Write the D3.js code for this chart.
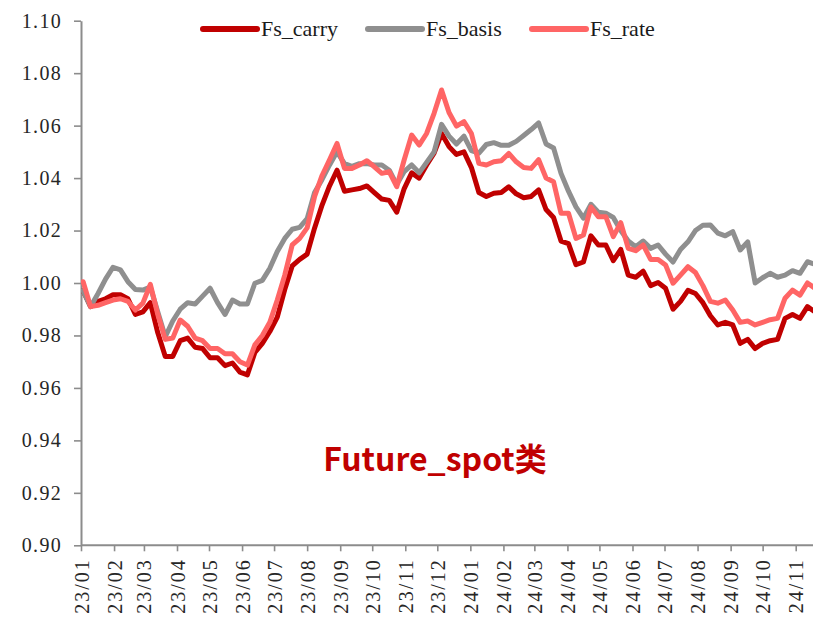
<!DOCTYPE html>
<html>
<head>
<meta charset="utf-8">
<script src="https://cdn.jsdelivr.net/npm/d3@7/dist/d3.min.js"></script>
<style>
  html, body { margin: 0; padding: 0; background: #fff; }
  svg { display: block; }
</style>
</head>
<body>
<svg id="chart" width="813" height="619"></svg>
<script>
// Weekly observation dates
const dates = [
  "2023-01-03","2023-01-10","2023-01-17","2023-01-24","2023-01-31",
  "2023-02-07","2023-02-14","2023-02-21","2023-02-28",
  "2023-03-07","2023-03-14","2023-03-21","2023-03-28",
  "2023-04-04","2023-04-11","2023-04-18","2023-04-25",
  "2023-05-02","2023-05-09","2023-05-16","2023-05-23","2023-05-30",
  "2023-06-06","2023-06-13","2023-06-20","2023-06-27",
  "2023-07-04","2023-07-11","2023-07-18","2023-07-25",
  "2023-08-01","2023-08-08","2023-08-15","2023-08-22","2023-08-29",
  "2023-09-05","2023-09-12","2023-09-19","2023-09-26",
  "2023-10-03","2023-10-10","2023-10-17","2023-10-24","2023-10-31",
  "2023-11-07","2023-11-14","2023-11-21","2023-11-28",
  "2023-12-05","2023-12-12","2023-12-19","2023-12-26",
  "2024-01-02","2024-01-09","2024-01-16","2024-01-23","2024-01-30",
  "2024-02-06","2024-02-13","2024-02-20","2024-02-27",
  "2024-03-05","2024-03-12","2024-03-19","2024-03-26",
  "2024-04-02","2024-04-09","2024-04-16","2024-04-23","2024-04-30",
  "2024-05-07","2024-05-14","2024-05-21","2024-05-28",
  "2024-06-04","2024-06-11","2024-06-18","2024-06-25",
  "2024-07-02","2024-07-09","2024-07-16","2024-07-23","2024-07-30",
  "2024-08-06","2024-08-13","2024-08-20","2024-08-27",
  "2024-09-03","2024-09-10","2024-09-17","2024-09-24",
  "2024-10-01","2024-10-08","2024-10-15","2024-10-22","2024-10-29",
  "2024-11-05","2024-11-12","2024-11-19"
];

const fsCarry = [
  0.997,0.991,0.993,0.994,0.9955,0.9955,0.994,0.988,0.989,0.9925,
  0.981,0.972,0.972,0.978,0.979,0.9755,0.975,0.9715,0.9715,0.9685,
  0.9695,0.966,0.965,0.9735,0.977,0.9815,0.987,0.9975,1.0065,1.009,
  1.011,1.021,1.0297,1.037,1.043,1.035,1.0355,1.036,1.037,1.0345,
  1.032,1.0315,1.027,1.036,1.042,1.040,1.045,1.0495,1.057,1.052,
  1.049,1.050,1.044,1.0345,1.033,1.0342,1.0345,1.0367,1.034,1.0325,
  1.033,1.0355,1.028,1.025,1.016,1.015,1.007,1.008,1.018,1.0145,
  1.0145,1.0085,1.0128,1.003,1.0022,1.0045,0.999,1.0002,0.998,0.990,
  0.993,0.9972,0.996,0.9925,0.9875,0.984,0.985,0.984,0.977,0.9785,
  0.975,0.977,0.978,0.9785,0.9865,0.988,0.9865,0.991,0.989
];

const fsBasis = [
  0.997,0.991,0.996,1.0015,1.006,1.005,1.0005,0.9975,0.9973,0.9985,
  0.989,0.9795,0.9855,0.990,0.9925,0.992,0.995,0.998,0.9925,0.988,
  0.9935,0.992,0.992,0.9999,1.001,1.0056,1.012,1.017,1.0205,1.0212,
  1.0245,1.0345,1.0395,1.045,1.050,1.0455,1.0445,1.0455,1.0455,1.045,
  1.045,1.043,1.0375,1.0425,1.045,1.042,1.046,1.050,1.0605,1.056,
  1.053,1.056,1.0505,1.0495,1.0528,1.0535,1.0525,1.0525,1.054,1.0562,
  1.0585,1.061,1.053,1.0515,1.0418,1.035,1.029,1.0247,1.030,1.027,
  1.0266,1.025,1.020,1.016,1.0138,1.016,1.0132,1.0145,1.011,1.008,
  1.0128,1.0157,1.020,1.022,1.0221,1.019,1.018,1.0196,1.0126,1.0157,
  1.000,1.002,1.0037,1.0022,1.003,1.0047,1.0037,1.0081,1.0072
];

const fsRate = [
  1.0005,0.991,0.9915,0.9925,0.9935,0.994,0.993,0.9897,0.9923,0.9995,
  0.988,0.9785,0.979,0.9859,0.9835,0.979,0.978,0.975,0.975,0.973,
  0.973,0.970,0.9687,0.9764,0.980,0.985,0.9935,1.003,1.0145,1.017,
  1.021,1.033,1.041,1.047,1.0532,1.0437,1.0437,1.045,1.0466,1.0443,
  1.0418,1.0424,1.0367,1.047,1.0564,1.0526,1.057,1.0647,1.0736,1.065,
  1.0598,1.0615,1.057,1.0456,1.045,1.0462,1.0466,1.0494,1.0462,1.044,
  1.0437,1.047,1.040,1.0386,1.0266,1.0266,1.017,1.0183,1.029,1.0253,
  1.0253,1.0177,1.023,1.0132,1.0123,1.0145,1.009,1.009,1.0069,0.9999,
  1.003,1.0062,1.004,0.999,0.993,0.9923,0.9935,0.9897,0.985,0.9855,
  0.984,0.985,0.986,0.9865,0.9942,0.9973,0.9954,1.000,0.998
];

const seriesNames = ["Fs_carry", "Fs_basis", "Fs_rate"];
const seriesColors = ["#C00000", "#8F8F8F", "#FF6565"];
const yTicks = [0.90, 0.92, 0.94, 0.96, 0.98, 1.00, 1.02, 1.04, 1.06, 1.08, 1.10];
const monthTicks = [
  "2023-01-01","2023-02-01","2023-03-01","2023-04-01","2023-05-01","2023-06-01",
  "2023-07-01","2023-08-01","2023-09-01","2023-10-01","2023-11-01","2023-12-01",
  "2024-01-01","2024-02-01","2024-03-01","2024-04-01","2024-05-01","2024-06-01",
  "2024-07-01","2024-08-01","2024-09-01","2024-10-01","2024-11-01"
];
const annotation = "Future_spot类";

const parse = d3.utcParse("%Y-%m-%d");
const dateObjs = dates.map(parse);
const tickObjs = monthTicks.map(parse);
const seriesValues = [fsCarry, fsBasis, fsRate];

const svg = d3.select("#chart");
const plotLeft = 81, plotRight = 813, plotTop = 20.7, plotBottom = 545.3;

const x = d3.scaleUtc()
  .domain([parse("2023-01-01"), parse("2024-11-01")])
  .range([plotLeft, 795.7]);
const y = d3.scaleLinear()
  .domain([0.90, 1.10])
  .range([plotBottom, plotTop]);

const axisColor = "#8C8C8C";
const serif = "'Liberation Serif', 'Times New Roman', serif";

// Y axis
const yAxis = svg.append("g")
  .attr("transform", `translate(${plotLeft},0)`)
  .call(d3.axisLeft(y).tickValues(yTicks).tickFormat(d3.format(".2f"))
    .tickSize(7).tickSizeOuter(0).tickPadding(12));
yAxis.attr("font-family", null);
yAxis.select(".domain").attr("stroke", axisColor).attr("stroke-width", 2);
yAxis.selectAll(".tick line").attr("stroke", axisColor).attr("stroke-width", 1.6);
yAxis.selectAll("text")
  .style("font-family", serif).attr("font-size", 20)
  .attr("letter-spacing", 1.3)
  .attr("fill", "#262626");

// X axis
const xAxis = svg.append("g")
  .attr("transform", `translate(0,${plotBottom})`)
  .call(d3.axisBottom(x).tickValues(tickObjs).tickFormat(d3.utcFormat("%y/%m"))
    .tickSize(6).tickSizeOuter(0));
xAxis.attr("font-family", null);
xAxis.select(".domain").remove();
xAxis.append("line")
  .attr("x1", plotLeft).attr("x2", plotRight)
  .attr("stroke", axisColor).attr("stroke-width", 2);
xAxis.selectAll(".tick line").attr("stroke", axisColor).attr("stroke-width", 1.6);
xAxis.selectAll("text")
  .attr("transform", "rotate(-90)")
  .attr("text-anchor", "end")
  .attr("x", -13).attr("y", 0).attr("dy", "0.35em")
  .style("font-family", serif).attr("font-size", 20)
  .attr("letter-spacing", 2)
  .attr("fill", "#262626");

// Series lines (drawn in legend order so later series sit on top)
const line = d3.line()
  .x((d, i) => x(dateObjs[i]))
  .y(d => y(d));

svg.append("defs").append("clipPath").attr("id", "plotClip")
  .append("rect").attr("x", plotLeft).attr("y", 0)
  .attr("width", plotRight - plotLeft).attr("height", plotBottom);

const lines = svg.append("g").attr("clip-path", "url(#plotClip)");
seriesValues.forEach((vals, k) => {
  lines.append("path")
    .datum(vals)
    .attr("d", line)
    .attr("fill", "none")
    .attr("stroke", seriesColors[k])
    .attr("stroke-width", 5)
    .attr("stroke-linejoin", "round")
    .attr("stroke-linecap", "round");
});

// Legend
const legendX = [203, 368, 532];
const legend = svg.append("g");
seriesNames.forEach((name, k) => {
  legend.append("line")
    .attr("x1", legendX[k]).attr("x2", legendX[k] + 54)
    .attr("y1", 29).attr("y2", 29)
    .attr("stroke", seriesColors[k]).attr("stroke-width", 6)
    .attr("stroke-linecap", "round");
  legend.append("text")
    .attr("x", legendX[k] + 58).attr("y", 36)
    .style("font-family", serif).attr("font-size", 22)
    .attr("fill", "#1a1a1a")
    .text(name);
});

// Chart annotation
svg.append("text")
  .attr("x", 435).attr("y", 471)
  .attr("text-anchor", "middle")
  .style("font-family", "'Noto Sans CJK SC', 'Noto Sans', sans-serif")
  .attr("font-weight", "bold")
  .attr("font-size", 32)
  .attr("fill", "#C00000")
  .text(annotation);
</script>
</body>
</html>
